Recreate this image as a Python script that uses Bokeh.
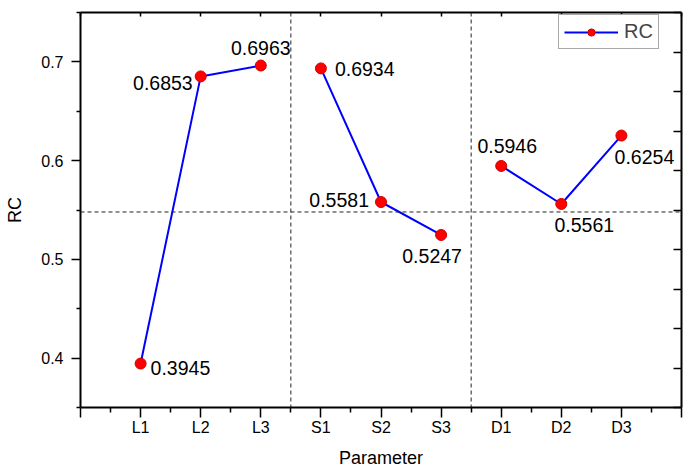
from bokeh.plotting import figure
from bokeh.models import (FixedTicker, LinearAxis, Span, Legend, LegendItem,
                          ColumnDataSource)
from bokeh.core.properties import value
from bokeh.embed import file_html
from bokeh.resources import INLINE

# ---- data ----
categories = ["L1", "L2", "L3", "S1", "S2", "S3", "D1", "D2", "D3"]
positions = [1, 2, 3, 4, 5, 6, 7, 8, 9]
rc_values = [0.3945, 0.6853, 0.6963, 0.6934, 0.5581, 0.5247, 0.5946, 0.5561, 0.6254]
reference_level = 0.548
group_bounds = [3.5, 6.5]
y_ticks = [0.4, 0.5, 0.6, 0.7]
y_minor = [0.35, 0.45, 0.55, 0.65, 0.75]

# ---- label layout (screen offsets, px) ----
label_dx = [10, -8, 0, 14, -12, -9, 6, 23, 23]
label_dy = [4, 7, -18, 1, -2, 21, -20, 21, 21]
label_align = ["left", "right", "center", "left", "right", "center", "center", "center", "center"]

FONT = "Liberation Sans"

p = figure(width=698, height=470, x_range=(0, 10), y_range=(0.35, 0.75),
           output_backend="svg", toolbar_location=None,
           min_border_left=80, min_border_right=17, min_border_top=12,
           min_border_bottom=57)
p.outline_line_color = None
p.xgrid.visible = False
p.ygrid.visible = False
p.background_fill_color = "white"
p.border_fill_color = "white"

# bottom axis
xa = p.xaxis[0]
xa.ticker = FixedTicker(ticks=list(range(0, 11)),
                        minor_ticks=[i + 0.5 for i in range(10)])
overrides = {i: "" for i in range(0, 11)}
for pos, c in zip(positions, categories):
    overrides[pos] = c
xa.major_label_overrides = overrides
xa.axis_label = "Parameter"

# left axis
ya = p.yaxis[0]
ya.ticker = FixedTicker(ticks=y_ticks, minor_ticks=y_minor)
ya.axis_label = "RC"

for ax in (xa, ya):
    ax.axis_line_width = 2
    ax.axis_line_color = "black"
    ax.major_tick_line_width = 1.5
    ax.minor_tick_line_width = 1.5
    ax.major_tick_in = 0
    ax.minor_tick_in = 0
    ax.major_label_text_font = FONT
    ax.major_label_text_font_size = "16px"
    ax.major_label_text_color = "black"
    ax.axis_label_text_font = FONT
    ax.axis_label_text_font_size = "18px"
    ax.axis_label_text_font_style = "normal"
    ax.axis_label_text_color = "black"

xa.major_tick_out = 10
xa.minor_tick_out = 5
xa.major_label_standoff = 1
xa.axis_label_standoff = 9
ya.major_tick_out = 9
ya.minor_tick_out = 4
ya.major_label_standoff = 8
ya.axis_label_standoff = 13

# right axis (inward ticks, no labels)
r_ticks = [0.35 + 0.04 * k for k in range(11)]
ra = LinearAxis(ticker=FixedTicker(ticks=r_ticks),
                major_label_overrides={t: "" for t in r_ticks},
                axis_line_width=2,
                major_tick_in=8, major_tick_out=0, minor_tick_in=0, minor_tick_out=0,
                major_tick_line_width=1.5)
p.add_layout(ra, "right")
# top axis
t_ticks = list(range(0, 11))
ta = LinearAxis(ticker=FixedTicker(ticks=t_ticks),
                major_label_overrides={t: "" for t in t_ticks},
                axis_line_width=2,
                major_tick_in=4, major_tick_out=0, minor_tick_in=0, minor_tick_out=0,
                major_tick_line_width=1.5)
p.add_layout(ta, "above")

# reference lines
p.add_layout(Span(location=reference_level, dimension="width",
                  line_color="#222222", line_dash="4 3", line_width=1))
for b in group_bounds:
    p.add_layout(Span(location=b, dimension="height",
                      line_color="#222222", line_dash="4 3", line_width=1))

src = ColumnDataSource(dict(x=positions, y=rc_values,
                            txt=["%.4f" % v for v in rc_values],
                            dx=label_dx, dy=label_dy, al=label_align))

r_lines = []
for a, b in ((0, 3), (3, 6), (6, 9)):
    r_lines.append(p.line(positions[a:b], rc_values[a:b], line_color="#0000FF", line_width=2))
r_pts = p.scatter("x", "y", source=src, size=11, fill_color="#FF0000",
                  line_color="#D00000", line_width=1)

p.text("x", "y", text="txt", source=src, x_offset="dx", y_offset="dy",
       text_align="al", text_baseline="middle", text_font=value(FONT),
       text_font_size="19.5px", text_color="black")

legend = Legend(items=[LegendItem(label="RC", renderers=[r_lines[0], r_pts])],
                location=(478, 358), padding=5, spacing=0, margin=0,
                glyph_width=54, glyph_height=18, label_height=18,
                label_standoff=6, label_text_font=FONT, label_text_font_size="20px",
                border_line_color="#555555", border_line_width=1,
                background_fill_alpha=1)
p.add_layout(legend)

open("out.html", "w").write(file_html(p, INLINE))
